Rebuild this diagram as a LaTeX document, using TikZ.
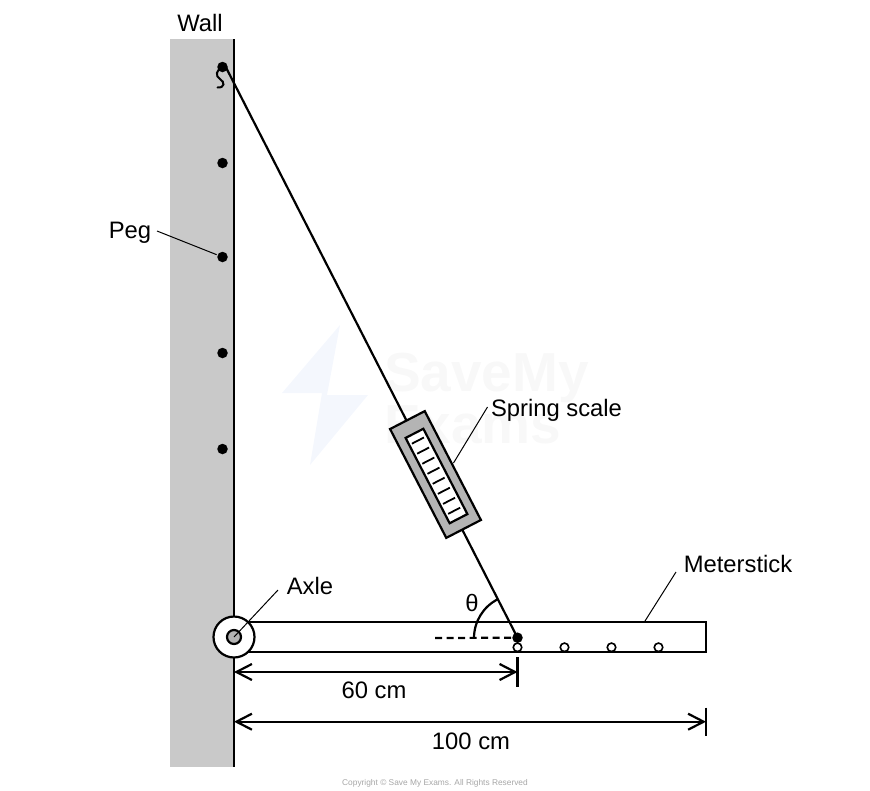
\documentclass[tikz,border=0pt]{standalone}
\usepackage{fontspec}
\setmainfont{Liberation Sans}
\usetikzlibrary{arrows.meta}
\definecolor{wallgray}{HTML}{C9C9C9}
\definecolor{scalegray}{HTML}{B4B4B4}
\definecolor{boltblue}{HTML}{F4F7FD}
\definecolor{markgray}{HTML}{F8F8F8}
\begin{document}
\begin{tikzpicture}[x=1pt,y=-1pt,line width=2.2pt,>={Straight Barb[length=15.5pt,width=16pt,line width=2.2pt]},
    label node/.style={inner sep=0pt,font=\fontsize{23.8}{28}\selectfont},
    mark node/.style={inner sep=0pt,anchor=west,text=markgray,font=\fontsize{55}{60}\selectfont\bfseries},
    peg node/.style={circle,fill=black,inner sep=0pt,minimum size=10.5pt},
    hole node/.style={circle,draw,fill=white,line width=1.6pt,inner sep=0pt,minimum size=8.5pt},
    leader/.style={line width=1pt}]
    \useasboundingbox (0,0) rectangle (870,790);
    % watermark
    \fill[boltblue] (340,325) -- (282,393) -- (322,393) -- (310,465) -- (368,395) -- (327,395) -- cycle;
    \node[mark node] (save) at (383,378) {SaveMy};
    \node[mark node] (exams) at (383,425) {Exams};
    % wall
    \fill[wallgray] (170,39) rectangle (234,767);
    \coordinate (w1) at (234,39);
    \coordinate (w2) at (234,767);
    \path (w1) edge (w2);
    % pegs
    \foreach \n/\y in {1/67,2/163,3/257,4/353,5/449}
        \node[peg node] (p\n) at (222.5,\y) {};
    \draw[line width=2pt,line cap=round] (p1.center) .. controls (216,70) and (215,76) .. (220,79) .. controls (225,82) and (225,88) .. (217.5,87.5);
    % meterstick
    \node[draw,outer sep=0pt,inner sep=0pt,minimum width=472pt,minimum height=30pt,anchor=west] (stick) at (234,636.7) {};
    \node[circle,draw,fill=white,inner sep=0pt,minimum size=41pt] (axle) at (234,637) {};
    \node[circle,draw,fill=scalegray,inner sep=0pt,minimum size=14pt] (pin) at (234,637) {};
    \foreach \n/\x in {1/517.5,2/564.5,3/611.5,4/658.5}
        \node[hole node] (h1\n) at (\x,647.3) {};
    \node[peg node] (a) at (517.5,637.7) {};
    % string and scale
    \coordinate (top) at (225,65.5);
    \path (top) edge (a.center);
    \node[draw,fill=scalegray,rotate=-62.7,inner sep=0pt,minimum width=122.5pt,minimum height=39pt] (scale) at (435.5,474.5) {};
    \node[draw,fill=white,rotate=-62.7,inner sep=0pt,minimum width=96pt,minimum height=20pt] (dial) at (436.5,476) {};
    \begin{scope}[shift={(dial.center)},rotate=-62.7]
        \foreach \t in {-40,-28.7,-17.4,-6.1,5.2,16.5,27.8,39}
            \draw[line width=1.8pt] (\t,7) -- (\t,-6.5);
    \end{scope}
    % angle
    \coordinate (d) at (435,638);
    \draw[dashed,dash pattern=on 7pt off 4.5pt] (d) -- (a.center);
    \draw (474,638) arc[start angle=180,end angle=117.3,radius=43.5pt];
    \node[label node] (theta) at (472,603) {θ};
    % dimensions
    \coordinate (d1) at (234,672);
    \coordinate (d2) at (517.5,672);
    \coordinate (d3) at (234,721.7);
    \coordinate (d4) at (706,721.7);
    \coordinate (t1) at (517.5,657);
    \coordinate (t2) at (517.5,686.5);
    \coordinate (t3) at (706,707.5);
    \coordinate (t4) at (706,736);
    \path[<->] (d1) edge (d2);
    \path[<->] (d3) edge (d4);
    \path (t1) edge (t2);
    \path (t3) edge (t4);
    \node[label node] (l60) at (374,690) {60 cm};
    \node[label node] (l100) at (471,741) {100 cm};
    % labels
    \node[label node] (wall) at (200,23) {Wall};
    \node[label node] (peg) at (130,233) {Peg};
    \node[label node] (axlelabel) at (310,586) {Axle};
    \node[label node] (spring) at (556.5,410) {Spring scale};
    \node[label node] (meter) at (738,564) {Meterstick};
    \coordinate (s1) at (487.5,407);
    \coordinate (s2) at (453.5,463);
    \coordinate (m1) at (676,572);
    \coordinate (m2) at (645,621);
    \coordinate (q1) at (157,231);
    \coordinate (x1) at (278,590);
    \draw[leader] (q1) -- (p3);
    \draw[leader] (x1) -- (pin.center);
    \draw[leader] (s1) -- (s2);
    \draw[leader] (m1) -- (m2);
    \node[text=gray!70,inner sep=0pt,font=\fontsize{8.35}{10}\selectfont] (copy) at (435,783) {Copyright © Save My Exams. All Rights Reserved};
\end{tikzpicture}
\end{document}
